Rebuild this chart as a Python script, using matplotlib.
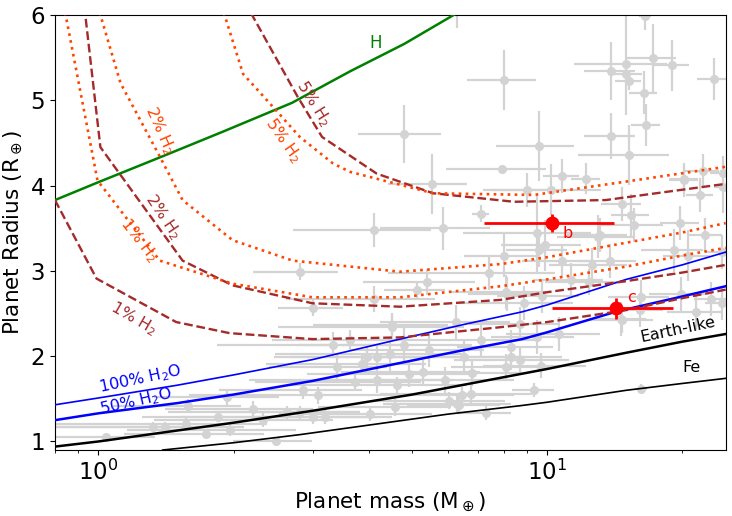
import matplotlib
matplotlib.use('Agg')
import matplotlib.pyplot as plt
import numpy as np

# --- composition models (mass in Earth masses, radius in Earth radii) ---
earth_m = [0.8, 1.0, 2.0, 3.0, 5.0, 10.0, 15.0, 20.0, 25.0]
earth_r = [0.94, 1.0, 1.22, 1.36, 1.55, 1.85, 2.04, 2.17, 2.26]

fe_m = [1.39, 2.0, 2.81, 4.24, 6.0, 8.73, 10.0, 15.0, 20.0, 25.0]
fe_r = [0.90, 0.985, 1.08, 1.21, 1.32, 1.42, 1.46, 1.60, 1.68, 1.74]

h2o100_m = [0.8, 1.0, 1.5, 2.0, 3.0, 4.7, 6.5, 8.8, 10.0, 15.0, 20.0, 25.0]
h2o100_r = [1.43, 1.51, 1.66, 1.78, 1.96, 2.20, 2.37, 2.52, 2.60, 2.90, 3.07, 3.22]

h2o50_m = [0.8, 1.0, 1.5, 2.0, 3.0, 4.7, 6.5, 8.8, 10.0, 14.2, 20.0, 25.0]
h2o50_r = [1.25, 1.33, 1.45, 1.55, 1.71, 1.92, 2.07, 2.20, 2.28, 2.52, 2.70, 2.82]

h_m = [0.8, 1.0, 1.4, 1.89, 2.7, 3.64, 4.8, 6.19, 8.0]
h_r = [3.83, 4.04, 4.35, 4.63, 4.97, 5.34, 5.66, 6.0, 6.35]

# H2 envelope models, two families (dashed brown, dotted orange)
b1_m = [0.8, 0.99, 1.49, 1.96, 3.0, 4.7, 7.88, 10.0, 15.0, 20.0, 25.0]
b1_r = [3.83, 2.91, 2.40, 2.27, 2.20, 2.22, 2.34, 2.40, 2.54, 2.68, 2.78]
b2_m = [0.93, 1.01, 1.54, 1.99, 3.0, 4.7, 7.88, 10.0, 15.0, 20.0, 25.0]
b2_r = [6.1, 4.45, 3.12, 2.83, 2.62, 2.58, 2.66, 2.75, 2.88, 2.98, 3.07]
b5_m = [2.12, 2.21, 2.78, 3.15, 4.17, 5.57, 8.43, 13.5, 25.0]
b5_r = [6.15, 5.98, 5.04, 4.57, 4.14, 3.91, 3.81, 3.83, 4.02]

o1_m = [0.83, 0.845, 0.995, 1.15, 1.37, 1.99, 3.0, 4.7, 7.88, 10.0, 15.0, 20.0, 25.0]
o1_r = [6.2, 6.0, 4.06, 3.63, 3.12, 2.85, 2.69, 2.69, 2.82, 2.90, 3.05, 3.18, 3.27]
o2_m = [0.99, 1.01, 1.12, 1.37, 1.54, 1.99, 2.71, 4.7, 7.88, 10.0, 15.0, 20.0, 25.0]
o2_r = [6.2, 6.0, 5.2, 4.34, 3.83, 3.36, 3.12, 2.99, 3.08, 3.16, 3.33, 3.45, 3.56]
o5_m = [1.88, 1.91, 2.10, 2.49, 2.81, 3.33, 3.64, 5.57, 9.34, 15.6, 25.0]
o5_r = [6.2, 6.0, 5.31, 4.88, 4.57, 4.26, 4.16, 3.91, 3.89, 4.06, 4.22]

# --- known planets: mass, radius, mass error, radius error ---
known = [
    (8.02, 5.24, 1.4, 0.35), (4.79, 4.60, 1.0, 0.34), (9.60, 4.46, 1.9, 0.41),
    (7.94, 4.19, 2.0, 0.05), (5.53, 4.02, 1.1, 0.35), (13.9, 5.34, 1.8, 0.34),
    (15.0, 5.43, 3.5, 0.60), (15.0, 5.31, 1.3, 0.05), (15.2, 5.22, 1.0, 0.10),
    (16.4, 5.09, 1.2, 0.25), (17.2, 5.49, 2.2, 0.40), (19.0, 5.41, 1.7, 0.30),
    (16.5, 5.99, 0.5, 0.17), (23.6, 5.25, 2.0, 0.25), (13.9, 4.58, 1.8, 0.27),
    (15.2, 4.36, 3.5, 0.35), (16.6, 4.71, 1.2, 0.25), (10.8, 4.11, 1.0, 0.20),
    (12.2, 4.08, 0.9, 0.18), (20.2, 4.08, 1.5, 0.15), (22.2, 4.17, 2.0, 0.20),
    (24.6, 4.15, 1.5, 0.20), (4.11, 3.48, 1.4, 0.20), (5.85, 3.50, 1.6, 0.25),
    (7.11, 3.67, 0.3, 0.10), (9.0, 3.95, 1.5, 0.20), (10.2, 3.95, 3.0, 0.30),
    (14.7, 3.78, 1.5, 0.20), (15.4, 3.65, 1.5, 0.25), (15.6, 3.54, 2.5, 0.20),
    (19.8, 3.56, 2.0, 0.20), (21.9, 3.89, 1.5, 0.20), (20.2, 4.07, 1.5, 0.20),
    (22.5, 3.42, 2.0, 0.20), (24.6, 3.98, 1.0, 0.30), (9.5, 3.44, 3.0, 0.45),
    (9.9, 3.30, 2.0, 0.30), (13.0, 3.40, 2.5, 0.25), (19.2, 3.24, 3.0, 0.25),
    (20.6, 3.18, 2.5, 0.30), (6.3, 6.25, 0.3, 0.40),
    (2.81, 2.99, 0.6, 0.10), (5.39, 2.87, 1.5, 0.15), (5.12, 2.78, 0.8, 0.10),
    (3.01, 2.57, 0.5, 0.10), (4.12, 2.67, 1.5, 0.15), (7.43, 2.97, 3.0, 0.20),
    (8.01, 3.18, 1.5, 0.25), (8.15, 2.73, 1.5, 0.20), (4.51, 2.34, 2.0, 0.15),
    (3.64, 2.19, 1.2, 0.12), (3.34, 2.13, 1.5, 0.15), (4.79, 2.13, 2.0, 0.20),
    (6.25, 2.40, 2.0, 0.20), (7.11, 2.19, 2.5, 0.20), (3.96, 1.99, 1.5, 0.15),
    (4.17, 1.99, 1.5, 0.15), (4.47, 2.03, 2.0, 0.20), (5.45, 2.07, 1.8, 0.20),
    (3.40, 1.87, 1.0, 0.15), (3.86, 1.91, 1.5, 0.12), (4.91, 1.79, 2.0, 0.15),
    (5.28, 1.81, 1.8, 0.15), (6.79, 1.80, 2.0, 0.15), (6.52, 1.99, 2.5, 0.20),
    (8.3, 2.11, 2.0, 0.20), (8.3, 1.99, 2.5, 0.15), (8.09, 1.87, 2.0, 0.15),
    (2.86, 1.60, 1.0, 0.10), (3.09, 1.54, 1.5, 0.10), (3.73, 1.70, 1.5, 0.10),
    (4.17, 1.72, 2.0, 0.15), (4.63, 1.66, 2.0, 0.10), (5.93, 1.72, 2.5, 0.15),
    (6.45, 1.54, 2.0, 0.10), (6.75, 1.56, 2.5, 0.12), (6.04, 1.48, 2.0, 0.10),
    (6.31, 1.44, 2.0, 0.10), (4.59, 1.40, 1.5, 0.10), (4.03, 1.32, 1.5, 0.08),
    (3.01, 1.29, 1.5, 0.08), (3.20, 1.29, 1.0, 0.08),
    (1.93, 1.52, 0.6, 0.10), (2.21, 1.38, 0.8, 0.10), (1.58, 1.42, 0.5, 0.08),
    (1.85, 1.29, 0.6, 0.06), (1.32, 1.17, 0.6, 0.06), (1.41, 1.17, 0.7, 0.06),
    (1.57, 1.21, 0.8, 0.06), (1.74, 1.09, 0.6, 0.05), (1.96, 1.13, 0.8, 0.06),
    (2.33, 1.25, 1.0, 0.08), (2.63, 1.34, 1.2, 0.08), (1.04, 1.05, 0.3, 0.04),
    (2.49, 1.01, 0.5, 0.04), (2.81, 1.34, 1.0, 0.08),
    (13.1, 3.42, 2.0, 0.20), (9.6, 3.24, 1.5, 0.20), (10.8, 3.12, 2.0, 0.20),
    (12.6, 3.07, 2.5, 0.20), (13.8, 3.12, 2.0, 0.20), (11.3, 2.89, 2.0, 0.20),
    (12.4, 2.87, 2.5, 0.15), (16.2, 2.69, 2.5, 0.20), (19.9, 2.73, 3.0, 0.20),
    (23.2, 2.67, 2.0, 0.20), (8.1, 2.75, 2.0, 0.20), (8.9, 2.62, 2.5, 0.20),
    (9.75, 2.71, 2.0, 0.20), (14.7, 2.42, 2.5, 0.15), (16.1, 2.54, 2.0, 0.20),
    (8.7, 1.95, 2.5, 0.15), (9.7, 1.89, 2.5, 0.15), (9.5, 2.22, 2.0, 0.20),
    (10.6, 2.26, 2.5, 0.20), (8.7, 2.38, 2.0, 0.20), (16.2, 1.62, 0.5, 0.05),
    (9.35, 1.60, 1.0, 0.08), (7.3, 1.33, 1.0, 0.08), (6.36, 1.43, 1.5, 0.10),
    (4.51, 2.36, 1.5, 0.15), (14.6, 2.44, 2.0, 0.20), (21.5, 2.52, 3.0, 0.20),
    (24.5, 2.62, 2.0, 0.20), (24.5, 3.22, 2.0, 0.20),
]
known_m = [k[0] for k in known]
known_r = [k[1] for k in known]
known_dm = [k[2] for k in known]
known_dr = [k[3] for k in known]

# --- this system ---
pl_names = ['b', 'c']
pl_m = [10.25, 14.24]
pl_m_lo = [3.03, 4.0]
pl_m_hi = [3.85, 4.86]
pl_r = [3.56, 2.56]
pl_r_err = [0.11, 0.12]
pl_lab_m = [11.1, 15.4]
pl_lab_r = [3.44, 2.69]

fig = plt.figure(figsize=(7.32, 5.16), dpi=100)
ax = fig.add_axes([0.0751, 0.1279, 0.9163, 0.8431])

ax.errorbar(known_m, known_r, xerr=known_dm, yerr=known_dr, fmt='o',
            color='lightgray', ms=5.5, elinewidth=1.6, capsize=0, zorder=1)

ax.plot(earth_m, earth_r, color='black', lw=1.8, zorder=3)
ax.plot(fe_m, fe_r, color='black', lw=1.2, zorder=3)
ax.plot(h2o100_m, h2o100_r, color='blue', lw=1.2, zorder=3)
ax.plot(h2o50_m, h2o50_r, color='blue', lw=1.8, zorder=3)
ax.plot(h_m, h_r, color='green', lw=1.8, zorder=3)
for mm, rr in [(b1_m, b1_r), (b2_m, b2_r), (b5_m, b5_r)]:
    ax.plot(mm, rr, color='brown', ls='--', lw=1.7, zorder=3)
for mm, rr in [(o1_m, o1_r), (o2_m, o2_r), (o5_m, o5_r)]:
    ax.plot(mm, rr, color='orangered', ls=':', lw=1.9, zorder=3)

for i in range(len(pl_m)):
    ax.errorbar(pl_m[i], pl_r[i], xerr=[[pl_m_lo[i]], [pl_m_hi[i]]],
                yerr=[[pl_r_err[i]], [pl_r_err[i]]], fmt='o', color='red',
                ms=9, elinewidth=2, capsize=0, zorder=5)
    ax.text(pl_lab_m[i], pl_lab_r[i], pl_names[i], color='red', fontsize=11.5,
            ha='center', va='center')

lab = dict(fontsize=11.5, ha='center', va='center', rotation_mode='anchor')
ax.text(1.37, 4.65, '2% H$_2$', color='orangered', rotation=-66, **lab)
ax.text(2.58, 4.53, '5% H$_2$', color='orangered', rotation=-55, **lab)
ax.text(1.23, 3.36, '1% H$_2$', color='orangered', rotation=-52, **lab)
ax.text(3.01, 4.96, '5% H$_2$', color='brown', rotation=-58, **lab)
ax.text(1.39, 3.63, '2% H$_2$', color='brown', rotation=-56, **lab)
ax.text(1.20, 2.44, '1% H$_2$', color='brown', rotation=-30, **lab)
ax.text(1.24, 1.73, '100% H$_2$O', color='blue', rotation=12, **lab)
ax.text(1.21, 1.47, '50% H$_2$O', color='blue', rotation=13, **lab)
ax.text(19.6, 2.31, 'Earth-like', color='black', rotation=12, **lab)
ax.text(21.0, 1.87, 'Fe', color='black', **lab)
ax.text(4.14, 5.67, 'H', color='green', fontsize=12, ha='center', va='center')

ax.set_xscale('log')
ax.set_xlim(0.8, 25)
ax.set_ylim(0.9, 6)
ax.set_yticks([1, 2, 3, 4, 5, 6])
ax.tick_params(axis='both', which='major', labelsize=16.5)
ax.set_xlabel('Planet mass (M$_\\oplus$)', fontsize=15.5)
ax.set_ylabel('Planet Radius (R$_\\oplus$)', fontsize=15.5)

fig.savefig('out.png', dpi=100)
